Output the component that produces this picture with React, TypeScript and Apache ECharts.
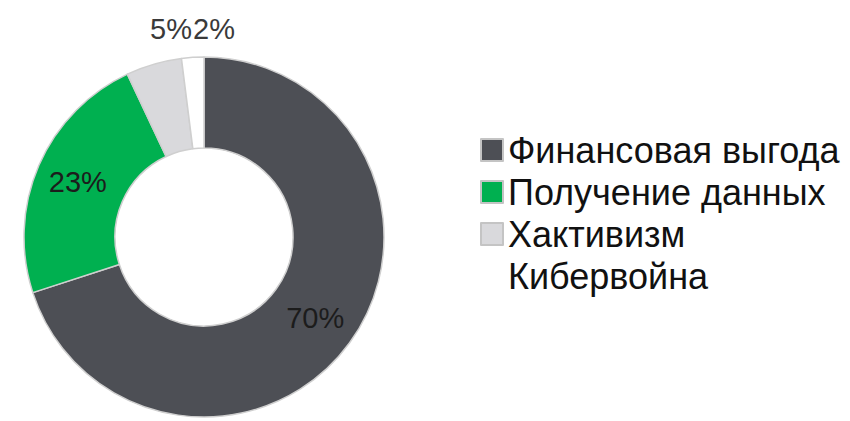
import React, { useEffect, useRef } from "react";
import * as echarts from "echarts";

const categories = ["Финансовая выгода", "Получение данных", "Хактивизм", "Кибервойна"];
const values = [70, 23, 5, 2];
const colors = ["#4d4f55", "#00b050", "#d9d9dc", "#ffffff"];
const labelPositions = ["inside", "inside", "outside", "outside"];
// outside label anchor points (label layout only)
const outsideLabelAnchors: Record<number, [number, number]> = { 2: [171, 29], 3: [214, 29] };

export default function App() {
  const ref = useRef<HTMLDivElement>(null);
  useEffect(() => {
    document.body.style.margin = "0";
    const chart = echarts.init(ref.current!, null, { renderer: "svg" });
    const data = categories.map((name, i) => ({
      name,
      value: values[i],
      itemStyle: { color: colors[i] },
      label: {
        position: labelPositions[i],
        color: i < 2 ? "#1c1c1c" : "#3a3a3a",
      },
      labelLine: { show: false },
    }));
    chart.setOption({
      animation: false,
      backgroundColor: "#ffffff",
      legend: {
        orient: "vertical",
        left: 475,
        top: 127,
        itemWidth: 22,
        itemHeight: 22,
        itemGap: 6,
        icon: "rect",
        selectedMode: false,
        itemStyle: { borderColor: "#c4c4c4", borderWidth: 2 },
        textStyle: {
          fontFamily: "Liberation Sans",
          fontSize: 36,
          lineHeight: 36,
          color: "#111111",
        },
        data: categories.map((name, i) =>
          i === 3
            ? { name, itemStyle: { color: "#ffffff", borderColor: "#ffffff", borderWidth: 0 } }
            : { name }
        ),
      },
      series: [
        {
          type: "pie",
          center: [204, 237],
          radius: [89, 180],
          startAngle: 90,
          clockwise: true,
          avoidLabelOverlap: false,
          silent: true,
          itemStyle: { borderColor: "#cfcfcf", borderWidth: 1.5 },
          label: {
            show: true,
            formatter: "{c}%",
            fontFamily: "Liberation Sans",
            fontSize: 29,
          },
          labelLayout: (params: any) => {
            const a = outsideLabelAnchors[params.dataIndex];
            if (!a) return {};
            return { x: a[0], y: a[1], align: "center", verticalAlign: "middle" };
          },
          data,
        },
      ],
    });
    return () => chart.dispose();
  }, []);
  return <div ref={ref} style={{ width: 850, height: 421 }} />;
}
